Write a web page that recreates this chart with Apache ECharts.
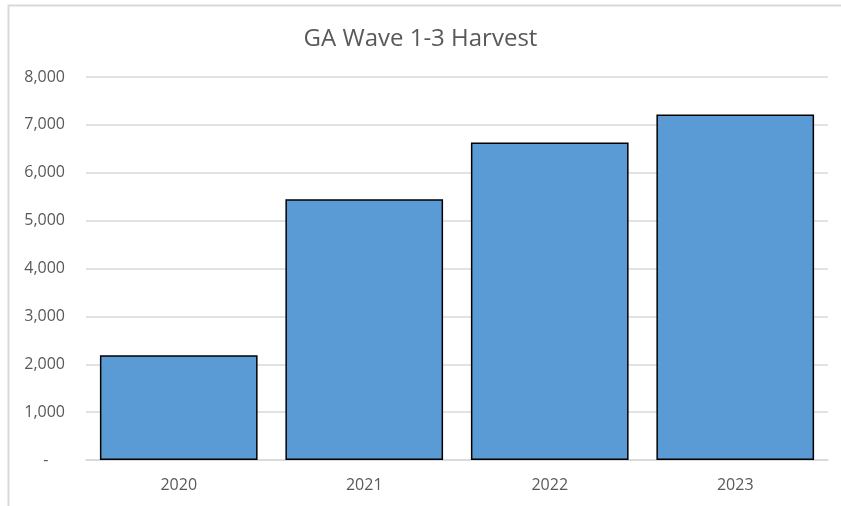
<!DOCTYPE html>
<html>
<head>
<meta charset="utf-8">
<script src="https://cdn.jsdelivr.net/npm/echarts@6/dist/echarts.min.js"></script>
<style>html,body{margin:0;padding:0;background:#fff;}#c{width:841px;height:506px;}</style>
</head>
<body>
<div id="c"></div>
<script>
const categories = ['2020', '2021', '2022', '2023'];
const harvest = [2190, 5445, 6633, 7215];
const yTicks = { min: 0, max: 8000, interval: 1000 };

const chart = echarts.init(document.getElementById('c'), null, { renderer: 'canvas' });
chart.setOption({
  animation: false,
  backgroundColor: '#ffffff',
  graphic: [{
    type: 'rect', left: 6, top: 3,
    shape: { width: 900, height: 600 },
    style: { fill: 'none', stroke: '#d9d9d9', lineWidth: 2 }, silent: true
  }],
  title: {
    text: 'GA Wave 1-3 Harvest', left: 'center', top: 22,
    textStyle: { fontFamily: 'Open Sans', fontSize: 24, fontWeight: 'normal', color: '#595959' }
  },
  grid: { left: 86, right: 13, top: 77, bottom: 46, containLabel: false },
  xAxis: {
    type: 'category', data: categories,
    axisLine: { show: true, lineStyle: { color: '#d9d9d9', width: 1.5 } },
    axisTick: { show: false },
    axisLabel: { color: '#595959', fontFamily: 'Open Sans', fontSize: 16, margin: 17 }
  },
  yAxis: {
    type: 'value', min: yTicks.min, max: yTicks.max, interval: yTicks.interval,
    axisLine: { show: false }, axisTick: { show: false },
    splitLine: { lineStyle: { color: '#d9d9d9', width: 1.5 } },
    axisLabel: {
      color: '#595959', fontFamily: 'Open Sans', fontSize: 16, margin: 21,
      formatter: v => v === 0 ? '-    ' : v.toLocaleString('en-US')
    }
  },
  series: [{
    type: 'bar', data: harvest, barCategoryGap: '15%',
    itemStyle: { color: '#5b9bd5', borderColor: '#000000', borderWidth: 1.5 }
  }]
});
</script>
</body>
</html>
